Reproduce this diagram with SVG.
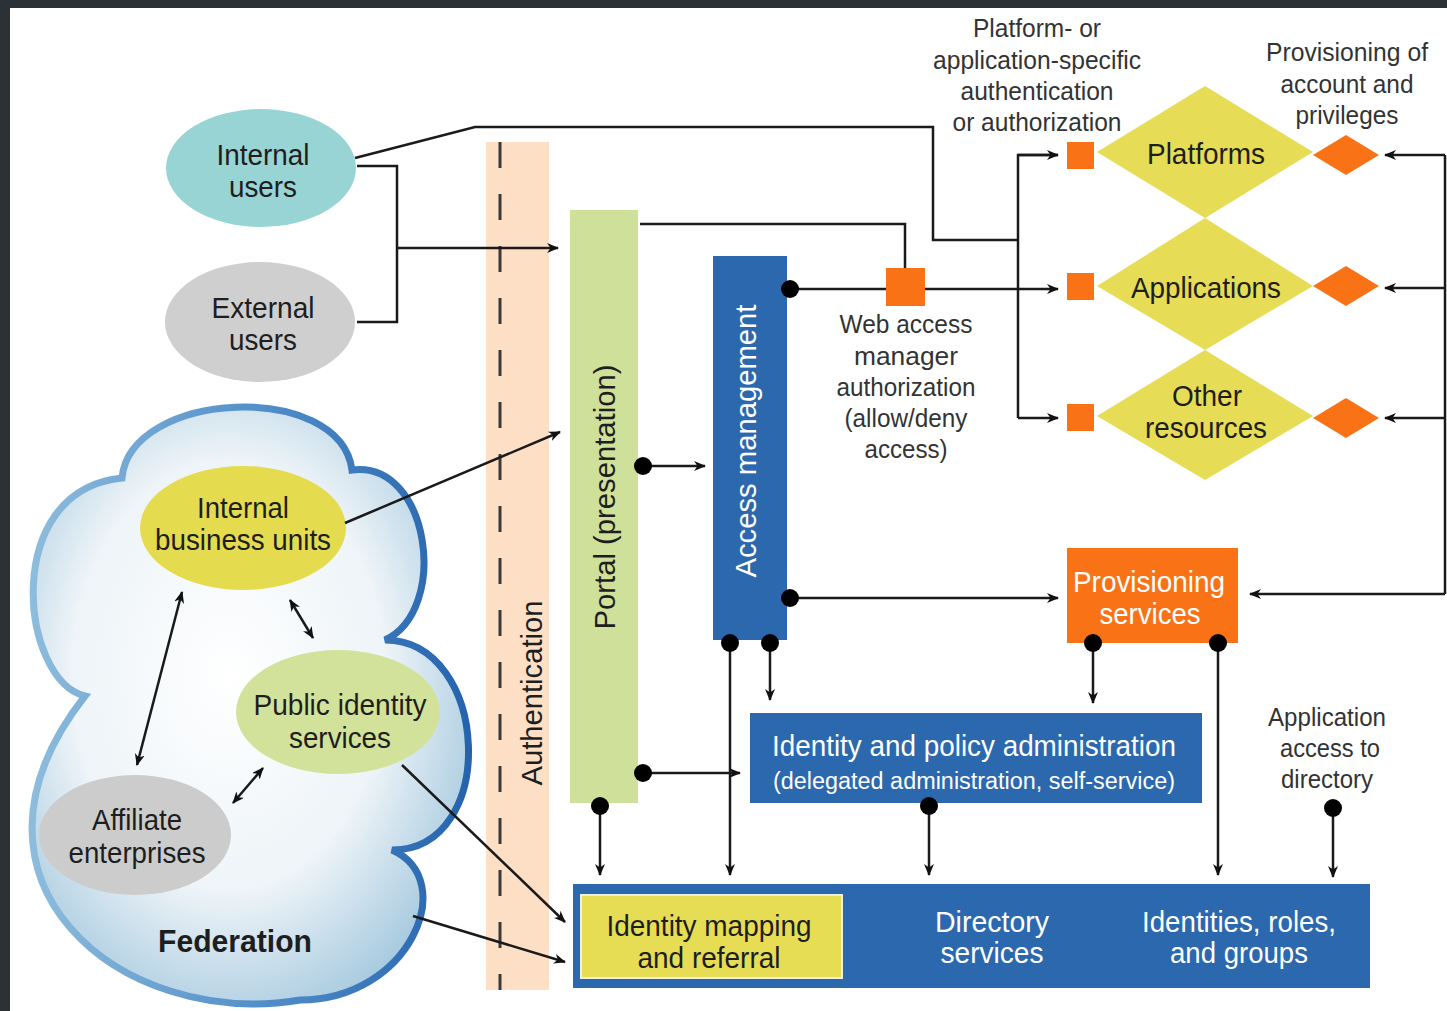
<svg xmlns="http://www.w3.org/2000/svg" width="1447" height="1011" viewBox="0 0 1447 1011">
<style>
.t{font-family:"Liberation Sans",Arial,sans-serif;text-anchor:middle;fill:#1e1e1e}
.b{font-size:30px}
.s{font-size:26px;fill:#333}
.w{fill:#fff}
.ln{fill:none;stroke:#1a1a1a;stroke-width:2.5}
.ar{marker-end:url(#ah)}
.da{marker-start:url(#ah);marker-end:url(#ah)}
.dot{fill:#000}
.blue{fill:#2b68ae}
.org{fill:#f97316}
.yel{fill:#e6dc55}
</style>
<defs>
<marker id="ah" viewBox="0 0 12 10" refX="11" refY="5" markerWidth="12" markerHeight="10" markerUnits="userSpaceOnUse" orient="auto-start-reverse"><path d="M0,0 L12,5 L0,10 L3.5,5 z" fill="#111"/></marker>
<radialGradient id="cloudFill" cx="0.45" cy="0.45" r="0.6"><stop offset="0" stop-color="#ffffff"/><stop offset="0.6" stop-color="#eef4f8"/><stop offset="1" stop-color="#a9cbe0"/></radialGradient>
<linearGradient id="cloudStroke" x1="0" y1="0" x2="1" y2="0"><stop offset="0" stop-color="#8dbcdc"/><stop offset="0.55" stop-color="#4f8cc8"/><stop offset="1" stop-color="#2563ad"/></linearGradient>
</defs>
<rect width="1447" height="1011" fill="#2c3135"/>
<rect x="10" y="8" width="1437" height="1003" fill="#ffffff"/>

<g id="authentication">
<rect x="486" y="142" width="63" height="848" fill="#fddfc6"/>
<line x1="500" y1="142" x2="500" y2="990" stroke="#3a3a3a" stroke-width="3" stroke-dasharray="26 26"/>
<text class="t" font-size="29" transform="translate(542,693) rotate(-90)" textLength="185" lengthAdjust="spacingAndGlyphs">Authentication</text>
</g>

<g id="federation">
<path d="M122,478 C130,390 340,380 352,470 C430,460 450,610 385,640 C490,640 500,850 392,850 C460,880 410,1000 300,1000 C120,1030 -60,880 85,696 C20,680 0,490 122,478 Z" fill="url(#cloudFill)" stroke="url(#cloudStroke)" stroke-width="7"/>
<text class="t" font-size="32" font-weight="bold" x="235" y="952" textLength="154" lengthAdjust="spacingAndGlyphs">Federation</text>
</g>

<g id="internal-users">
<ellipse cx="261" cy="168" rx="95" ry="59" fill="#99d4d4"/>
<text class="t b" x="263" y="165" textLength="93" lengthAdjust="spacingAndGlyphs">Internal</text>
<text class="t b" x="263" y="197" textLength="68" lengthAdjust="spacingAndGlyphs">users</text>
</g>
<g id="external-users">
<ellipse cx="260" cy="322" rx="95" ry="60" fill="#cfcfcf"/>
<text class="t b" x="263" y="318" textLength="103" lengthAdjust="spacingAndGlyphs">External</text>
<text class="t b" x="263" y="350" textLength="68" lengthAdjust="spacingAndGlyphs">users</text>
</g>
<g id="internal-business-units">
<ellipse cx="243" cy="528" rx="103" ry="62" fill="#e5db4e"/>
<text class="t b" x="243" y="518" textLength="92" lengthAdjust="spacingAndGlyphs">Internal</text>
<text class="t b" x="243" y="550" textLength="176" lengthAdjust="spacingAndGlyphs">business units</text>
</g>
<g id="public-identity-services">
<ellipse cx="338" cy="712" rx="102" ry="62" fill="#d3e29a"/>
<text class="t b" x="340" y="715" textLength="173" lengthAdjust="spacingAndGlyphs">Public identity</text>
<text class="t b" x="340" y="748" textLength="102" lengthAdjust="spacingAndGlyphs">services</text>
</g>
<g id="affiliate-enterprises">
<ellipse cx="135" cy="835" rx="96" ry="60" fill="#cccccc"/>
<text class="t b" x="137" y="830" textLength="90" lengthAdjust="spacingAndGlyphs">Affiliate</text>
<text class="t b" x="137" y="863" textLength="137" lengthAdjust="spacingAndGlyphs">enterprises</text>
</g>

<g id="portal">
<rect x="570" y="210" width="68" height="593" fill="#cfe09a"/>
<text class="t" font-size="30" transform="translate(615,497) rotate(-90)" textLength="265" lengthAdjust="spacingAndGlyphs">Portal (presentation)</text>
</g>
<g id="access-management">
<rect x="713" y="256" width="74" height="384" class="blue"/>
<text class="t w" font-size="30" transform="translate(756,441) rotate(-90)" textLength="273" lengthAdjust="spacingAndGlyphs">Access management</text>
</g>

<g id="web-access-manager">
<text class="t s" x="906" y="333" textLength="133" lengthAdjust="spacingAndGlyphs">Web access</text>
<text class="t s" x="906" y="365" textLength="104" lengthAdjust="spacingAndGlyphs">manager</text>
<text class="t s" x="906" y="396" textLength="139" lengthAdjust="spacingAndGlyphs">authorization</text>
<text class="t s" x="906" y="427" textLength="123" lengthAdjust="spacingAndGlyphs">(allow/deny</text>
<text class="t s" x="906" y="458" textLength="83" lengthAdjust="spacingAndGlyphs">access)</text>
</g>

<g id="platform-note">
<text class="t s" x="1037" y="37" textLength="128" lengthAdjust="spacingAndGlyphs">Platform- or</text>
<text class="t s" x="1037" y="69" textLength="208" lengthAdjust="spacingAndGlyphs">application-specific</text>
<text class="t s" x="1037" y="100" textLength="153" lengthAdjust="spacingAndGlyphs">authentication</text>
<text class="t s" x="1037" y="131" textLength="169" lengthAdjust="spacingAndGlyphs">or authorization</text>
</g>
<g id="provisioning-note">
<text class="t s" x="1347" y="61" textLength="162" lengthAdjust="spacingAndGlyphs">Provisioning of</text>
<text class="t s" x="1347" y="93" textLength="133" lengthAdjust="spacingAndGlyphs">account and</text>
<text class="t s" x="1347" y="124" textLength="103" lengthAdjust="spacingAndGlyphs">privileges</text>
</g>

<g id="platforms">
<polygon points="1097,152 1205,86 1313,152 1205,218" class="yel"/>
<rect x="1067" y="142" width="27" height="27" class="org"/>
<polygon points="1313,155 1346,135 1379,155 1346,175" class="org"/>
<text class="t b" x="1206" y="164" textLength="118" lengthAdjust="spacingAndGlyphs">Platforms</text>
</g>
<g id="applications">
<polygon points="1097,286 1205,218 1313,286 1205,350" class="yel"/>
<rect x="1067" y="273" width="27" height="27" class="org"/>
<polygon points="1313,286 1346,266 1379,286 1346,306" class="org"/>
<text class="t b" x="1206" y="298" textLength="150" lengthAdjust="spacingAndGlyphs">Applications</text>
</g>
<g id="other-resources">
<polygon points="1097,416 1205,350 1313,416 1205,480" class="yel"/>
<rect x="1067" y="404" width="27" height="27" class="org"/>
<polygon points="1313,418 1346,398 1379,418 1346,438" class="org"/>
<text class="t b" x="1207" y="406" textLength="70" lengthAdjust="spacingAndGlyphs">Other</text>
<text class="t b" x="1206" y="438" textLength="122" lengthAdjust="spacingAndGlyphs">resources</text>
</g>

<g id="provisioning-services">
<rect x="1067" y="548" width="171" height="95" class="org"/>
<text class="t b w" x="1149" y="592" textLength="152" lengthAdjust="spacingAndGlyphs">Provisioning</text>
<text class="t b w" x="1150" y="624" textLength="101" lengthAdjust="spacingAndGlyphs">services</text>
</g>

<g id="identity-policy-admin">
<rect x="750" y="713" width="452" height="90" class="blue"/>
<text class="t b w" x="974" y="756" textLength="404" lengthAdjust="spacingAndGlyphs">Identity and policy administration</text>
<text class="t w" font-size="23" x="974" y="789" textLength="402" lengthAdjust="spacingAndGlyphs">(delegated administration, self-service)</text>
</g>

<g id="app-access-note">
<text class="t s" x="1327" y="726" textLength="118" lengthAdjust="spacingAndGlyphs">Application</text>
<text class="t s" x="1330" y="757" textLength="100" lengthAdjust="spacingAndGlyphs">access to</text>
<text class="t s" x="1327" y="788" textLength="92" lengthAdjust="spacingAndGlyphs">directory</text>
</g>

<g id="directory">
<rect x="573" y="884" width="797" height="104" class="blue"/>
<rect x="581" y="895" width="261" height="83" fill="#e6dd55" stroke="#eef0dc" stroke-width="2"/>
<text class="t b" x="709" y="936" textLength="205" lengthAdjust="spacingAndGlyphs">Identity mapping</text>
<text class="t b" x="709" y="968" textLength="143" lengthAdjust="spacingAndGlyphs">and referral</text>
<text class="t b w" x="992" y="932" textLength="114" lengthAdjust="spacingAndGlyphs">Directory</text>
<text class="t b w" x="992" y="963" textLength="103" lengthAdjust="spacingAndGlyphs">services</text>
<text class="t b w" x="1239" y="932" textLength="194" lengthAdjust="spacingAndGlyphs">Identities, roles,</text>
<text class="t b w" x="1239" y="963" textLength="138" lengthAdjust="spacingAndGlyphs">and groups</text>
</g>

<g id="connectors">
<path class="ln" d="M355,158 L475,127 H933 V240 H1018"/>
<path class="ln" d="M1058,155 H1018 V418"/>
<path class="ln ar" d="M1018,155 H1058"/>
<path class="ln ar" d="M1018,418 H1058"/>
<path class="ln" d="M357,166 H397 V322 H357"/>
<path class="ln ar" d="M397,248 H558"/>
<path class="ln ar" d="M345,523 L560,432"/>
<path class="ln ar" d="M402,765 L565,922"/>
<path class="ln ar" d="M413,916 L565,962"/>
<path class="ln da" d="M182,592 L137,765"/>
<path class="ln da" d="M290,600 L313,638"/>
<path class="ln da" d="M263,768 L233,803"/>
<path class="ln" d="M640,224 H905 V268"/>
<path class="ln ar" d="M790,289 H1058"/>
<rect x="886" y="268" width="39" height="38" class="org"/>
<path class="ln ar" d="M643,466 H705"/>
<path class="ln ar" d="M790,598 H1058"/>
<path class="ln" d="M1445,155 V594"/>
<path class="ln ar" d="M1445,155 H1385"/>
<path class="ln ar" d="M1445,288 H1385"/>
<path class="ln ar" d="M1445,418 H1385"/>
<path class="ln ar" d="M1445,594 H1250"/>
<path class="ln ar" d="M730,643 V875"/>
<path class="ln ar" d="M770,643 V700"/>
<path class="ln ar" d="M1093,643 V703"/>
<path class="ln ar" d="M1218,643 V875"/>
<path class="ln ar" d="M643,773 H740"/>
<path class="ln ar" d="M600,806 V875"/>
<path class="ln ar" d="M929,806 V875"/>
<path class="ln ar" d="M1333,808 V877"/>
<circle class="dot" cx="790" cy="289" r="9"/>
<circle class="dot" cx="643" cy="466" r="9"/>
<circle class="dot" cx="790" cy="598" r="9"/>
<circle class="dot" cx="730" cy="643" r="9"/>
<circle class="dot" cx="770" cy="643" r="9"/>
<circle class="dot" cx="1093" cy="643" r="9"/>
<circle class="dot" cx="1218" cy="643" r="9"/>
<circle class="dot" cx="643" cy="773" r="9"/>
<circle class="dot" cx="600" cy="806" r="9"/>
<circle class="dot" cx="929" cy="806" r="9"/>
<circle class="dot" cx="1333" cy="808" r="9"/>
</g>
</svg>
